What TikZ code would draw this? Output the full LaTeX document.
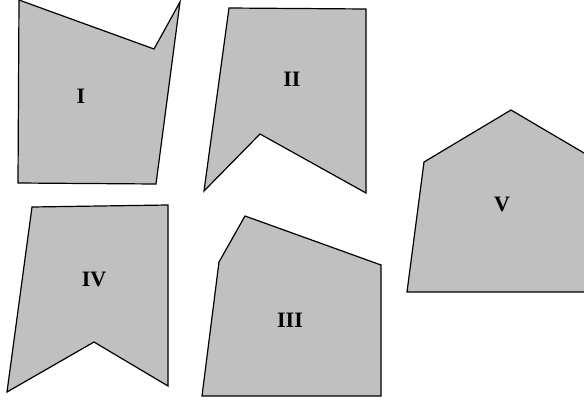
\documentclass[tikz,border=0pt]{standalone}
\usepackage{fontspec}
\setmainfont{Liberation Serif}
\definecolor{piece}{RGB}{192,192,192}

\begin{document}
\begin{tikzpicture}[x=1pt,y=-1pt,
	piece/.style={line width=1.2pt,fill=piece,line join=miter},
	tag/.style={font=\fontsize{22}{26}\selectfont\bfseries,inner sep=0pt}]

	% frame of the picture, V runs over the right edge
	\clip (0,0) rectangle (584,402);

	% the five pieces
	\draw[piece] (19,0) -- (154,49) -- (180,2) -- (156,184) -- (18,183) -- cycle;
	\draw[piece] (229,8) -- (366,9) -- (366,193) -- (260,134) -- (204,191) -- cycle;
	\draw[piece] (245,216) -- (381,265) -- (381,396) -- (202,396) -- (219,262) -- cycle;
	\draw[piece] (32,207) -- (168,205) -- (168,386) -- (94,342) -- (7,392) -- cycle;
	\draw[piece] (511,110) -- (640,186) -- (640,292) -- (407,292) -- (424,162) -- cycle;

	% labels
	\node[tag] (one) at (81,96) {I};
	\node[tag] (two) at (292,79) {II};
	\node[tag] (three) at (290,320) {III};
	\node[tag] (four) at (94,279) {IV};
	\node[tag] (five) at (502,204) {V};

\end{tikzpicture}
\end{document}
